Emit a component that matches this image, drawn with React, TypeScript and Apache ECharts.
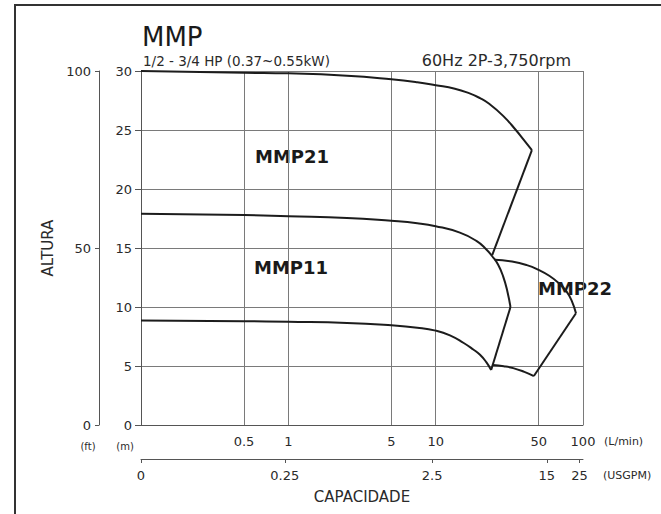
import React, { useEffect, useRef } from "react";
import * as echarts from "echarts";

// ---- axis data ----
const flowMinLpm = 0.1;
const flowMaxLpm = 100;
const flowTickLabelsLpm = [0.5, 1, 5, 10, 50, 100];
const usgpmTickLabels = [0, 0.25, 2.5, 15, 25];
const LPM_PER_USGPM = 3.785;
const headMinM = 0;
const headMaxM = 30;
const headIntervalM = 5;
const headMinFt = 0;
const headMaxFt = 100;
const headIntervalFt = 50;

// ---- curve data [L/min, m] ----
const topCurve = [
  [0.1, 30], [0.5, 29.85], [1, 29.8], [2.5, 29.6], [5, 29.3], [7.5, 29.05], [10, 28.8],
  [13.5, 28.5], [17, 28.1], [20, 27.7], [23.2, 27.2], [28.7, 26.2], [35, 25.0], [40, 24.1], [45, 23.3],
];
const mmp21Edge = [[45, 23.3], [24.2, 14.4]];
const midCurve = [
  [0.1, 17.9], [0.5, 17.8], [1, 17.7], [2.5, 17.55], [5, 17.3], [7.5, 17.1], [10, 16.85],
  [14.6, 16.3], [18.9, 15.6], [22, 14.9], [24.2, 14.3], [26.5, 13.6], [28.7, 12.6], [30.7, 11.3], [32.2, 10],
];
const mmp11Edge = [[32.2, 10], [23.8, 4.66]];
const bottomCurve = [
  [0.1, 8.85], [0.5, 8.8], [1, 8.75], [2.5, 8.65], [5, 8.45], [7.5, 8.25], [10, 8.0],
  [12.5, 7.6], [15.5, 6.95], [18, 6.4], [20, 5.95], [22, 5.35], [23.8, 4.66],
];
const mmp22Upper = [
  [25.2, 14.0], [33, 13.85], [41.6, 13.55], [50, 13.15], [59, 12.65], [68, 12.05], [77.4, 11.3], [84, 10.5], [89.6, 9.47],
];
const mmp22Edge = [[89.6, 9.47], [46.4, 4.15]];
const mmp22Lower = [[24.5, 5.08], [29, 4.98], [33.6, 4.82], [40, 4.5], [46.4, 4.15]];

const FONT = '"DejaVu Sans", sans-serif';
const LINE = "#1c1c1c";
const GRIDC = "#7a7a7a";
const AXISC = "#555";
const TXT = "#2a2a2a";

const usgpmAsLpm = usgpmTickLabels.map((u) => (u === 0 ? flowMinLpm : u * LPM_PER_USGPM));

function nearestIndex(v: number, arr: number[]) {
  let best = 0;
  let bd = Infinity;
  arr.forEach((a, i) => {
    const d = Math.abs(Math.log(v) - Math.log(a));
    if (d < bd) { bd = d; best = i; }
  });
  return best;
}

function curve(name: string, data: number[][], smooth: number | boolean) {
  return {
    type: "line",
    name,
    data,
    smooth,
    symbol: "none",
    silent: true,
    clip: false,
    xAxisIndex: 0,
    yAxisIndex: 0,
    lineStyle: { color: LINE, width: 2, join: "round" },
    z: 5,
  };
}

function txt(text: string, x: number, y: number, size: number, extra: any = {}) {
  return {
    type: "text",
    x,
    y,
    silent: true,
    style: {
      text,
      fontSize: size,
      fontFamily: FONT,
      fill: TXT,
      textAlign: "left",
      textVerticalAlign: "middle",
      align: "left",
      verticalAlign: "middle",
      ...extra,
    },
  };
}

export default function App() {
  const ref = useRef<HTMLDivElement>(null);
  useEffect(() => {
    const chart = echarts.init(ref.current!, null, { renderer: "svg" });
    const option: any = {
      animation: false,
      backgroundColor: "#fff",
      grid: { left: 141, right: 78, top: 71, bottom: 89, containLabel: false, outerBoundsMode: "none" },
      xAxis: [
        {
          type: "log",
          min: flowMinLpm,
          max: flowMaxLpm,
          position: "bottom",
          axisLine: { show: true, onZero: false, lineStyle: { color: AXISC, width: 1 } },
          axisTick: { show: false, customValues: flowTickLabelsLpm },
          axisLabel: {
            customValues: flowTickLabelsLpm,
            margin: 10,
            fontSize: 13,
            fontFamily: FONT,
            color: TXT,
            formatter: (v: number) => String(flowTickLabelsLpm[nearestIndex(v, flowTickLabelsLpm)]),
          },
          splitLine: { show: true, lineStyle: { color: GRIDC, width: 1 } },
          minorTick: { show: false },
        },
        {
          type: "log",
          min: flowMinLpm,
          max: flowMaxLpm,
          position: "bottom",
          offset: 34,
          name: "CAPACIDADE",
          nameLocation: "middle",
          nameGap: 30,
          nameTextStyle: { fontSize: 15, fontFamily: FONT, color: TXT },
          axisLine: { show: true, onZero: false, lineStyle: { color: AXISC, width: 1 } },
          axisTick: { show: true, customValues: usgpmAsLpm, length: 4, lineStyle: { color: AXISC } },
          axisLabel: {
            customValues: usgpmAsLpm,
            margin: 10,
            fontSize: 13,
            fontFamily: FONT,
            color: TXT,
            formatter: (v: number) => String(usgpmTickLabels[nearestIndex(v, usgpmAsLpm)]),
          },
          splitLine: { show: false },
        },
      ],
      yAxis: [
        {
          type: "value",
          min: headMinM,
          max: headMaxM,
          interval: headIntervalM,
          position: "left",
          axisLine: { show: true, onZero: false, lineStyle: { color: AXISC, width: 1 } },
          axisTick: { show: true, length: 6, lineStyle: { color: AXISC } },
          axisLabel: { margin: 9, fontSize: 13, fontFamily: FONT, color: TXT },
          splitLine: { show: true, lineStyle: { color: GRIDC, width: 1 } },
        },
        {
          type: "value",
          min: headMinFt,
          max: headMaxFt,
          interval: headIntervalFt,
          position: "left",
          offset: 42,
          name: "ALTURA",
          nameLocation: "middle",
          nameGap: 40,
          nameRotate: 90,
          nameTextStyle: { fontSize: 15, fontFamily: FONT, color: TXT },
          axisLine: { show: true, onZero: false, lineStyle: { color: AXISC, width: 1 } },
          axisTick: { show: true, length: 4, lineStyle: { color: AXISC } },
          axisLabel: { margin: 8, fontSize: 13, fontFamily: FONT, color: TXT },
          splitLine: { show: false },
        },
      ],
      series: [
        curve("top", topCurve, 0.5),
        curve("mmp21Edge", mmp21Edge, false),
        curve("mid", midCurve, 0.5),
        curve("mmp11Edge", mmp11Edge, false),
        curve("bottom", bottomCurve, 0.5),
        curve("mmp22Upper", mmp22Upper, 0.5),
        curve("mmp22Edge", mmp22Edge, false),
        curve("mmp22Lower", mmp22Lower, 0.5),
      ],
      graphic: [
        {
          type: "rect",
          silent: true,
          shape: { x: 15, y: 5, width: 700, height: 600 },
          style: { fill: "none", stroke: "#333", lineWidth: 2 },
        },
        txt("MMP", 142, 37, 26, { fill: "#1a1a1a" }),
        txt("1/2 - 3/4 HP (0.37~0.55kW)", 143, 61, 13.5),
        txt("60Hz 2P-3,750rpm", 571, 60, 16, { textAlign: "right", align: "right" }),
        txt("MMP21", 292, 156, 18, { fontWeight: "bold", textAlign: "center", align: "center", fill: "#1a1a1a" }),
        txt("MMP11", 291, 267, 18, { fontWeight: "bold", textAlign: "center", align: "center", fill: "#1a1a1a" }),
        txt("MMP22", 575, 288, 18, { fontWeight: "bold", textAlign: "center", align: "center", fill: "#1a1a1a" }),
        txt("(ft)", 88, 446, 10, { textAlign: "center", align: "center" }),
        txt("(m)", 125, 446, 10, { textAlign: "center", align: "center" }),
        txt("(L/min)", 604, 441, 11),
        txt("(USGPM)", 603, 475, 11),
      ],
    };
    chart.setOption(option);
    return () => chart.dispose();
  }, []);
  return (
    <div
      ref={ref}
      style={{ position: "fixed", left: 0, top: 0, width: 661, height: 514, background: "#fff" }}
    />
  );
}
